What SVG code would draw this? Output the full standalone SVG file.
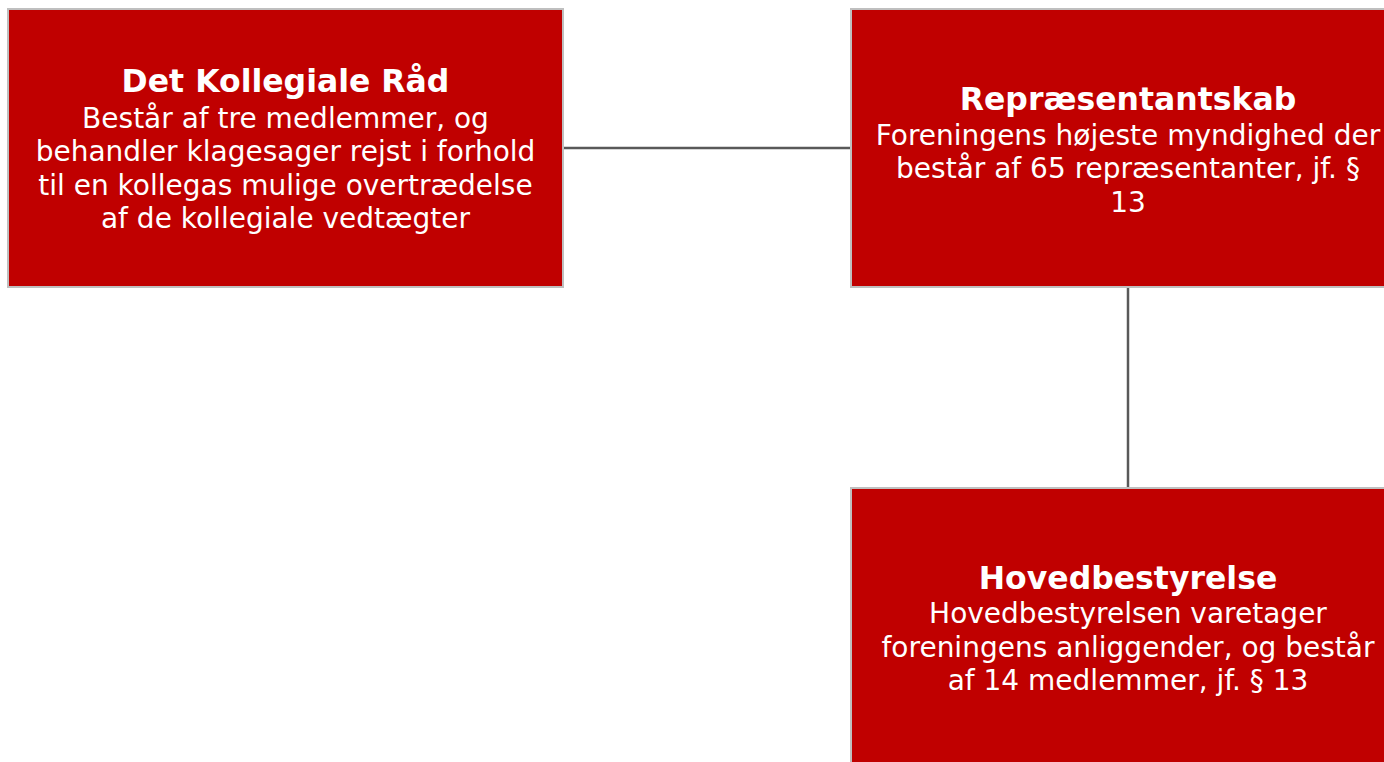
<svg xmlns="http://www.w3.org/2000/svg" width="1384" height="762" viewBox="0 0 1384 762">
<style>
.box{fill:#c00000;stroke:#bfbfbf;stroke-width:2}
.t{font-family:"DejaVu Sans",Verdana,sans-serif;fill:#fff;text-anchor:middle;font-size:28px}
.b{font-weight:bold;font-size:31.5px}
.c{stroke:#595959;stroke-width:2.5;fill:none}
</style>
<rect width="1384" height="762" fill="#fff"/>
<g id="connectors">
<line class="c" x1="563" y1="148" x2="851" y2="148"/>
<line class="c" x1="1128" y1="287" x2="1128" y2="488"/>
</g>
<g id="node-raad">
<rect class="box" x="8" y="9" width="555" height="278"/>
<text class="t b" x="285.5" y="92">Det Kollegiale Råd</text>
<text class="t" x="285.5" y="128">Består af tre medlemmer, og</text>
<text class="t" x="285.5" y="161">behandler klagesager rejst i forhold</text>
<text class="t" x="285.5" y="195">til en kollegas mulige overtrædelse</text>
<text class="t" x="285.5" y="228">af de kollegiale vedtægter</text>
</g>
<g id="node-rep">
<rect class="box" x="851" y="9" width="555" height="278"/>
<text class="t b" x="1128" y="110">Repræsentantskab</text>
<text class="t" x="1128" y="145">Foreningens højeste myndighed der</text>
<text class="t" x="1128" y="178">består af 65 repræsentanter, jf. §</text>
<text class="t" x="1128" y="212">13</text>
</g>
<g id="node-hb">
<rect class="box" x="851" y="488" width="555" height="278"/>
<text class="t b" x="1128" y="589">Hovedbestyrelse</text>
<text class="t" x="1128" y="623">Hovedbestyrelsen varetager</text>
<text class="t" x="1128" y="657">foreningens anliggender, og består</text>
<text class="t" x="1128" y="690">af 14 medlemmer, jf. § 13</text>
</g>
</svg>
